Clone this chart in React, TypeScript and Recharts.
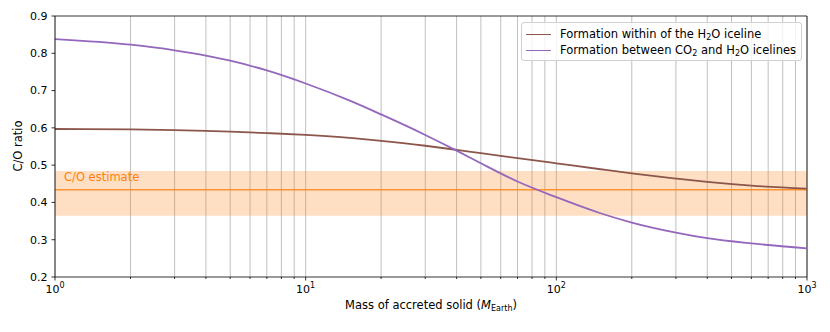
import React from 'react';
import {
  LineChart, Line, XAxis, YAxis, CartesianGrid,
  ReferenceLine, ReferenceArea,
} from 'recharts';

// accreted solid mass (M_Earth), shared by both curves
const MASS = [1, 2, 3, 4, 5, 7, 10, 15, 20, 30, 40, 50, 70, 100, 150, 200, 300, 400, 600, 1000];
// formation within the H2O iceline
const CO_WITHIN_H2O = [0.597, 0.596, 0.594, 0.592, 0.590, 0.586, 0.581, 0.573, 0.565, 0.552, 0.541, 0.532, 0.519, 0.505, 0.489, 0.478, 0.464, 0.455, 0.445, 0.437];
// formation between CO2 and H2O icelines
const CO_BETWEEN = [0.838, 0.823, 0.808, 0.794, 0.780, 0.754, 0.719, 0.673, 0.636, 0.581, 0.539, 0.505, 0.456, 0.414, 0.371, 0.346, 0.319, 0.304, 0.290, 0.277];

const CO_ESTIMATE = 0.434;
const CO_ESTIMATE_LOW = 0.364;
const CO_ESTIMATE_HIGH = 0.484;

const Y_TICKS = [0.2, 0.3, 0.4, 0.5, 0.6, 0.7, 0.8, 0.9];
const MAJOR_X = [1, 10, 100, 1000];
const X_TICKS = [1, 2, 3, 4, 5, 6, 7, 8, 9, 10, 20, 30, 40, 50, 60, 70, 80, 90, 100, 200, 300, 400, 500, 600, 700, 800, 900, 1000];

const BROWN = '#8c564b';
const PURPLE = '#9467bd';
const ORANGE = '#ff7f0e';
const FONT = '"DejaVu Sans", sans-serif';

const data = MASS.map((m, i) => ({ m, within: CO_WITHIN_H2O[i], between: CO_BETWEEN[i] }));

function LogTick(props: any) {
  const { x, y, payload } = props;
  const v = payload.value as number;
  const major = MAJOR_X.includes(v);
  return (
    <g>
      <line x1={x} x2={x} y1={y} y2={y + (major ? 3.5 : 2)} stroke="#000" strokeWidth={0.8} />
      {major && (
        <text x={x} y={y + 16} textAnchor="middle" fontSize={11} fontFamily={FONT} fill="#000">
          <tspan>10</tspan>
          <tspan dy={-5} fontSize={8}>{Math.round(Math.log10(v))}</tspan>
        </text>
      )}
    </g>
  );
}

function LegendRow({ color, children }: { color: string; children: React.ReactNode }) {
  return (
    <div style={{ display: 'flex', alignItems: 'center', height: 16 }}>
      <div style={{ width: 25, height: 0, borderTop: `1.8px solid ${color}`, marginRight: 9 }} />
      <span>{children}</span>
    </div>
  );
}

export default function App() {
  const sub = { fontSize: 8, verticalAlign: 'baseline', position: 'relative', top: 2 } as React.CSSProperties;
  return (
    <div style={{ margin: -8, position: 'relative', width: 830, height: 332, background: '#fff', fontFamily: FONT }}>
      <LineChart width={830} height={332} data={data} margin={{ top: 16, right: 23, left: 0, bottom: 0 }}>
        <CartesianGrid horizontal={false} stroke="#b0b0b0" strokeWidth={0.8} />
        <ReferenceArea y1={CO_ESTIMATE_LOW} y2={CO_ESTIMATE_HIGH} fill={ORANGE} fillOpacity={0.25} stroke="none" />
        <ReferenceLine y={CO_ESTIMATE} stroke={ORANGE} strokeOpacity={0.8} strokeWidth={1.5} />
        <XAxis
          dataKey="m"
          type="number"
          scale="log"
          domain={[1, 1000]}
          ticks={X_TICKS}
          interval={0}
          allowDataOverflow
          height={55}
          tickLine={false}
          tickSize={0}
          tickMargin={0}
          axisLine={{ stroke: '#000', strokeWidth: 0.8 }}
          tick={<LogTick />}
        />
        <YAxis
          type="number"
          domain={[0.2, 0.9]}
          ticks={Y_TICKS}
          width={55}
          tickSize={3.5}
          tickMargin={4}
          tickFormatter={(v: number) => v.toFixed(1)}
          tick={{ fontSize: 11, fill: '#000', fontFamily: FONT }}
          tickLine={{ stroke: '#000', strokeWidth: 0.8 }}
          axisLine={{ stroke: '#000', strokeWidth: 0.8 }}
        />
        <ReferenceLine y={0.9} stroke="#000" strokeWidth={0.8} />
        <ReferenceLine x={1000} stroke="#000" strokeWidth={0.8} />
        <Line type="monotone" dataKey="within" stroke={BROWN} strokeWidth={1.8} dot={false} isAnimationActive={false} />
        <Line type="monotone" dataKey="between" stroke={PURPLE} strokeWidth={1.8} dot={false} isAnimationActive={false} />
      </LineChart>

      <div style={{ position: 'absolute', left: 64, top: 170, fontSize: 11.5, color: ORANGE }}>C/O estimate</div>

      <div
        style={{
          position: 'absolute', left: 521, top: 22, width: 281, height: 39,
          border: '1px solid #d0d0d0', borderRadius: 3, background: 'rgba(255,255,255,0.8)',
          fontSize: 11.5, color: '#000', padding: '3px 0 0 4px', boxSizing: 'border-box',
        }}
      >
        <LegendRow color={BROWN}>Formation within of the H<span style={sub}>2</span>O iceline</LegendRow>
        <LegendRow color={PURPLE}>Formation between CO<span style={sub}>2</span> and H<span style={sub}>2</span>O icelines</LegendRow>
      </div>

      <div
        style={{
          position: 'absolute', left: 18, top: 146, fontSize: 11.5, color: '#000',
          transform: 'translate(-50%, -50%) rotate(-90deg)', whiteSpace: 'nowrap',
        }}
      >
        C/O ratio
      </div>

      <div
        style={{
          position: 'absolute', left: 431, top: 305, fontSize: 11.5, color: '#000',
          transform: 'translate(-50%, -50%)', whiteSpace: 'nowrap',
        }}
      >
        Mass of accreted solid (<i>M</i><span style={sub}>Earth</span>)
      </div>
    </div>
  );
}
